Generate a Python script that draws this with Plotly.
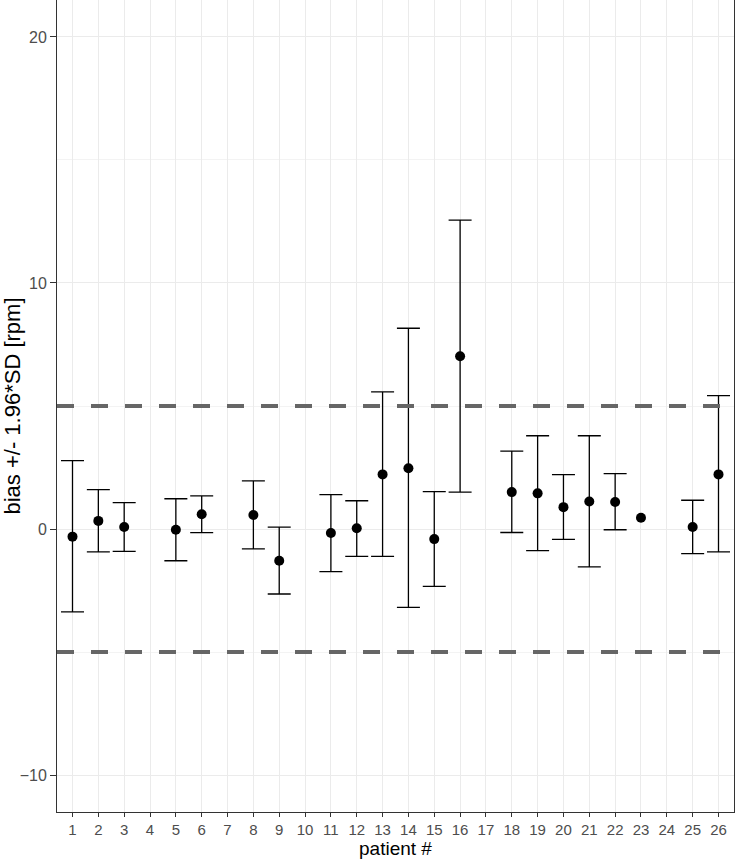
import numpy as np
import plotly.graph_objects as go

patients = [1, 2, 3, 5, 6, 8, 9, 11, 12, 13, 14, 15, 16, 18, 19, 20, 21, 22, 23, 25, 26]
bias = [-0.31, 0.33, 0.08, -0.03, 0.60, 0.57, -1.29, -0.16, 0.03, 2.22, 2.47, -0.41,
        7.02, 1.50, 1.45, 0.89, 1.12, 1.10, 0.46, 0.08, 2.22]
upper = [2.78, 1.60, 1.07, 1.23, 1.35, 1.96, 0.08, 1.40, 1.15, 5.57, 8.16, 1.52,
         12.55, 3.17, 3.79, 2.21, 3.79, 2.25, np.nan, 1.17, 5.42]
lower = [-3.37, -0.93, -0.91, -1.29, -0.15, -0.81, -2.64, -1.73, -1.11, -1.11, -3.18, -2.33,
         1.50, -0.14, -0.88, -0.42, -1.54, -0.03, np.nan, -1.00, -0.93]
x_ticks = list(range(1, 27))
limits = [-5, 5]

ok = [i for i in range(len(patients)) if np.isfinite(upper[i]) and np.isfinite(lower[i])]
ex = [patients[i] for i in ok]
ey = [bias[i] for i in ok]
err_plus = [upper[i] - bias[i] for i in ok]
err_minus = [bias[i] - lower[i] for i in ok]

fig = go.Figure()
fig.add_trace(go.Scatter(
    x=ex, y=ey, mode="markers",
    marker=dict(color="black", size=1, opacity=0),
    error_y=dict(type="data", symmetric=False, array=err_plus, arrayminus=err_minus,
                 color="black", thickness=1.3, width=11.5),
    showlegend=False, hoverinfo="skip",
))
fig.add_trace(go.Scatter(
    x=patients, y=bias, mode="markers",
    marker=dict(color="black", size=10),
    showlegend=False,
))

for lim in limits:
    fig.add_shape(type="line", xref="paper", x0=0, x1=1, yref="y", y0=lim, y1=lim,
                  line=dict(color="#666666", width=4, dash="17px,17px"), layer="above")

font = "Liberation Sans, Arial, sans-serif"
fig.update_layout(
    width=735, height=860,
    margin=dict(l=57, r=1, t=0, b=48),
    plot_bgcolor="white", paper_bgcolor="white",
    font=dict(family=font),
)
fig.add_annotation(
    text="patient #", xref="paper", yref="paper", x=0.5, y=0,
    xanchor="center", yanchor="top", yshift=-24, showarrow=False,
    font=dict(size=19, color="black", family=font),
)
fig.update_xaxes(
    range=[0.4, 26.6], tickmode="array", tickvals=x_ticks, ticktext=[str(v) for v in x_ticks],
    showgrid=True, gridcolor="#ebebeb", gridwidth=1, zeroline=False,
    ticks="outside", ticklen=4, tickcolor="#333333", tickwidth=1,
    tickfont=dict(size=15, color="#4d4d4d", family=font),
    showline=True, linecolor="#333333", linewidth=1, mirror=True,
    automargin=False,
)
fig.update_yaxes(
    range=[-11.5, 21.5], tickmode="array", tickvals=[-10, 0, 10, 20],
    showgrid=True, gridcolor="#ebebeb", gridwidth=1, zeroline=False,
    minor=dict(tickmode="array", tickvals=[-5, 5, 15], showgrid=True, gridcolor="#f3f3f3", gridwidth=0.7, ticks=""),
    ticks="outside", ticklen=6, tickcolor="#333333", tickwidth=1,
    tickfont=dict(size=16, color="#4d4d4d", family=font),
    showline=True, linecolor="#333333", linewidth=1, mirror=True,
    title=dict(text="bias +/- 1.96*SD [rpm]", font=dict(size=22, color="black", family=font), standoff=4),
    automargin=False,
)

fig.write_html("out.html", config={"displayModeBar": False},
               post_script="document.body.style.margin='0px';document.body.style.overflow='hidden';")
